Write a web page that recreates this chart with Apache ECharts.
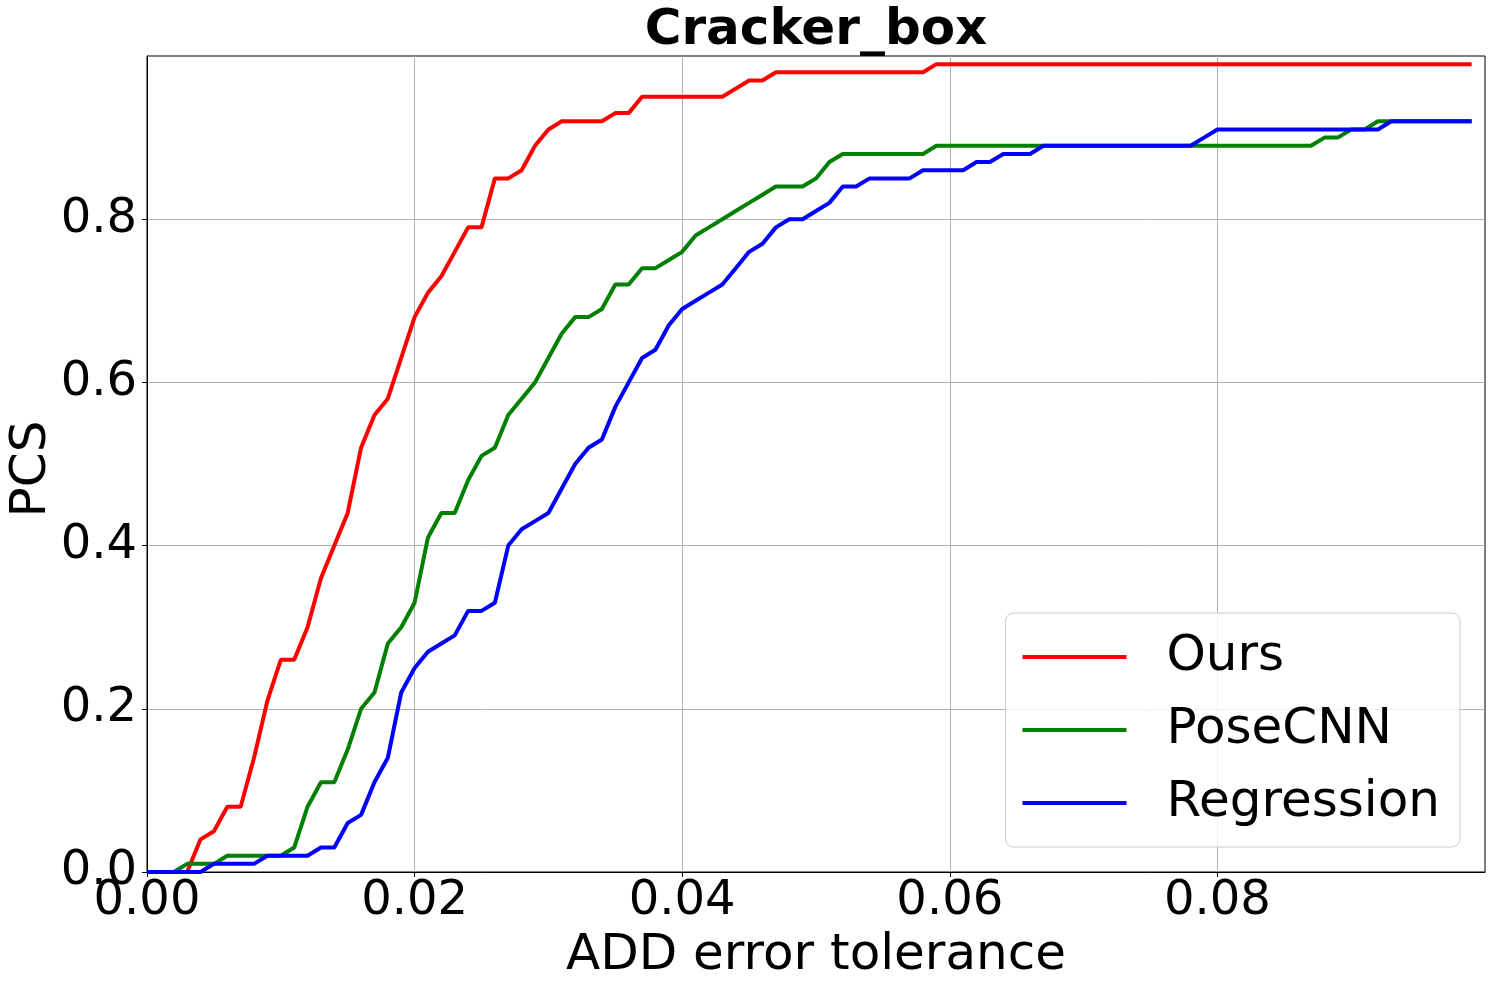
<!DOCTYPE html>
<html>
<head>
<meta charset="utf-8">
<script src="https://cdn.jsdelivr.net/npm/echarts@6/dist/echarts.min.js"></script>
<style>
html,body{margin:0;padding:0;background:#fff;}
#chart{width:1492px;height:986px;}
</style>
</head>
<body>
<div id="chart"></div>
<script>
const titleText = 'Cracker_box';
const xName = 'ADD error tolerance';
const yName = 'PCS';
const seriesNames = ['Ours', 'PoseCNN', 'Regression'];
const xTickValues = [0, 0.02, 0.04, 0.06, 0.08];
const yTickValues = [0, 0.2, 0.4, 0.6, 0.8];

const tolerance = [
  0.000,0.001,0.002,0.003,0.004,0.005,0.006,0.007,0.008,0.009,
  0.010,0.011,0.012,0.013,0.014,0.015,0.016,0.017,0.018,0.019,
  0.020,0.021,0.022,0.023,0.024,0.025,0.026,0.027,0.028,0.029,
  0.030,0.031,0.032,0.033,0.034,0.035,0.036,0.037,0.038,0.039,
  0.040,0.041,0.042,0.043,0.044,0.045,0.046,0.047,0.048,0.049,
  0.050,0.051,0.052,0.053,0.054,0.055,0.056,0.057,0.058,0.059,
  0.060,0.061,0.062,0.063,0.064,0.065,0.066,0.067,0.068,0.069,
  0.070,0.071,0.072,0.073,0.074,0.075,0.076,0.077,0.078,0.079,
  0.080,0.081,0.082,0.083,0.084,0.085,0.086,0.087,0.088,0.089,
  0.090,0.091,0.092,0.093,0.094,0.095,0.096,0.097,0.098,0.099
];

const ours = [
  0,0,0,0,0.04,0.05,0.08,0.08,0.14,0.21,
  0.26,0.26,0.30,0.36,0.40,0.44,0.52,0.56,0.58,0.63,
  0.68,0.71,0.73,0.76,0.79,0.79,0.85,0.85,0.86,0.89,
  0.91,0.92,0.92,0.92,0.92,0.93,0.93,0.95,0.95,0.95,
  0.95,0.95,0.95,0.95,0.96,0.97,0.97,0.98,0.98,0.98,
  0.98,0.98,0.98,0.98,0.98,0.98,0.98,0.98,0.98,0.99,
  0.99,0.99,0.99,0.99,0.99,0.99,0.99,0.99,0.99,0.99,
  0.99,0.99,0.99,0.99,0.99,0.99,0.99,0.99,0.99,0.99,
  0.99,0.99,0.99,0.99,0.99,0.99,0.99,0.99,0.99,0.99,
  0.99,0.99,0.99,0.99,0.99,0.99,0.99,0.99,0.99,0.99
];

const posecnn = [
  0,0,0,0.01,0.01,0.01,0.02,0.02,0.02,0.02,
  0.02,0.03,0.08,0.11,0.11,0.15,0.20,0.22,0.28,0.30,
  0.33,0.41,0.44,0.44,0.48,0.51,0.52,0.56,0.58,0.60,
  0.63,0.66,0.68,0.68,0.69,0.72,0.72,0.74,0.74,0.75,
  0.76,0.78,0.79,0.80,0.81,0.82,0.83,0.84,0.84,0.84,
  0.85,0.87,0.88,0.88,0.88,0.88,0.88,0.88,0.88,0.89,
  0.89,0.89,0.89,0.89,0.89,0.89,0.89,0.89,0.89,0.89,
  0.89,0.89,0.89,0.89,0.89,0.89,0.89,0.89,0.89,0.89,
  0.89,0.89,0.89,0.89,0.89,0.89,0.89,0.89,0.90,0.90,
  0.91,0.91,0.92,0.92,0.92,0.92,0.92,0.92,0.92,0.92
];

const regression = [
  0,0,0,0,0,0.01,0.01,0.01,0.01,0.02,
  0.02,0.02,0.02,0.03,0.03,0.06,0.07,0.11,0.14,0.22,
  0.25,0.27,0.28,0.29,0.32,0.32,0.33,0.40,0.42,0.43,
  0.44,0.47,0.50,0.52,0.53,0.57,0.60,0.63,0.64,0.67,
  0.69,0.70,0.71,0.72,0.74,0.76,0.77,0.79,0.80,0.80,
  0.81,0.82,0.84,0.84,0.85,0.85,0.85,0.85,0.86,0.86,
  0.86,0.86,0.87,0.87,0.88,0.88,0.88,0.89,0.89,0.89,
  0.89,0.89,0.89,0.89,0.89,0.89,0.89,0.89,0.89,0.90,
  0.91,0.91,0.91,0.91,0.91,0.91,0.91,0.91,0.91,0.91,
  0.91,0.91,0.91,0.92,0.92,0.92,0.92,0.92,0.92,0.92
];

const colors = ['#ff0000', '#008000', '#0000ff'];
const allSeries = [ours, posecnn, regression];

const FONT = 'DejaVu Sans';
const chart = echarts.init(document.getElementById('chart'), null, {renderer: 'canvas'});

const option = {
  backgroundColor: '#ffffff',
  animation: false,
  title: {
    text: titleText,
    left: 811,
    textAlign: 'center',
    top: 1,
    textStyle: {fontFamily: FONT, fontWeight: 'bold', fontSize: 50, color: '#000'}
  },
  graphic: [{
    type: 'text',
    x: 32,
    y: 469,
    rotation: Math.PI / 2,
    style: {
      text: yName,
      fontFamily: FONT,
      fontSize: 50,
      fill: '#000',
      align: 'center',
      verticalAlign: 'middle'
    }
  }],
  grid: {
    left: 147, right: 7, top: 56, bottom: 114,
    containLabel: false,
    outerBoundsMode: 'none',
    show: true, borderColor: '#000', borderWidth: 1, backgroundColor: 'transparent'
  },
  legend: {
    orient: 'vertical',
    right: 32,
    top: 613,
    data: seriesNames,
    icon: 'rect',
    itemWidth: 104,
    itemHeight: 4,
    itemGap: 17,
    padding: [16, 20, 16, 17],
    backgroundColor: 'rgba(255,255,255,0.8)',
    borderColor: '#cccccc',
    borderWidth: 1,
    borderRadius: 8,
    z: 10,
    textStyle: {fontFamily: FONT, fontSize: 50, color: '#000', lineHeight: 56, padding: [0, 0, 0, 35]}
  },
  xAxis: {
    type: 'value',
    min: 0, max: 0.1, interval: 0.02,
    name: xName,
    nameLocation: 'middle',
    nameGap: 57,
    nameTextStyle: {fontFamily: FONT, fontSize: 50, color: '#000'},
    axisLine: {show: true, lineStyle: {color: '#000', width: 1}},
    axisTick: {show: true, length: 5, lineStyle: {color: '#000'}, customValues: xTickValues},
    axisLabel: {
      fontFamily: FONT, fontSize: 48, color: '#000', margin: 6,
      customValues: xTickValues,
      formatter: v => v.toFixed(2)
    },
    splitLine: {show: true, lineStyle: {color: '#b0b0b0', width: 1}}
  },
  yAxis: {
    type: 'value',
    min: 0, max: 1, interval: 0.2,
    axisLine: {show: true, lineStyle: {color: '#000', width: 1}},
    axisTick: {show: true, length: 5, lineStyle: {color: '#000'}, customValues: yTickValues},
    axisLabel: {
      fontFamily: FONT, fontSize: 48, color: '#000', margin: 10,
      customValues: yTickValues,
      formatter: v => v.toFixed(1)
    },
    splitLine: {show: true, lineStyle: {color: '#b0b0b0', width: 1}}
  },
  series: seriesNames.map((name, i) => ({
    name: name,
    type: 'line',
    data: tolerance.map((x, j) => [x, allSeries[i][j]]),
    showSymbol: false,
    symbol: 'none',
    lineStyle: {color: colors[i], width: 4},
    itemStyle: {color: colors[i]},
    clip: false,
    z: 3
  }))
};

chart.setOption(option);
</script>
</body>
</html>
